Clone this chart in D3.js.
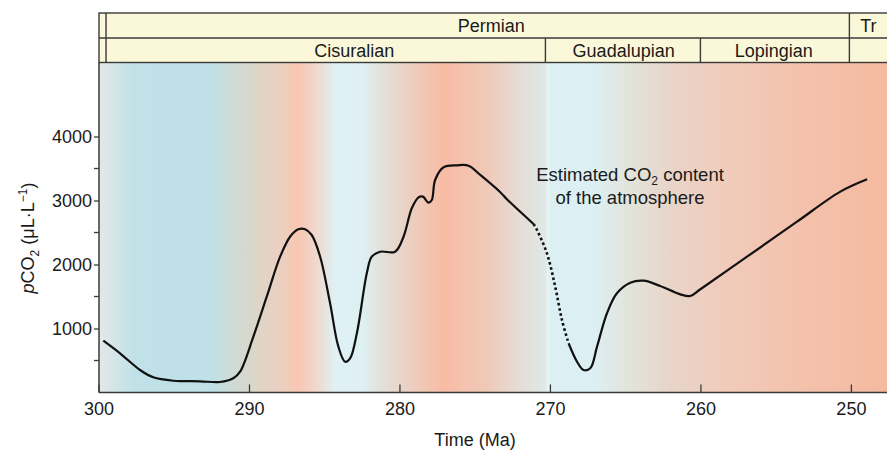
<!DOCTYPE html>
<html>
<head>
<meta charset="utf-8">
<script src="https://cdn.jsdelivr.net/npm/d3@7"></script>
<style>
    body { margin: 0; background: #fff; }
    text { font-family: "Liberation Sans", Arial, Helvetica, sans-serif; fill: #1a1a1a; }
</style>
</head>
<body>
<svg width="887" height="451"></svg>
<script>
// CO2 curve (age in Ma, pCO2 in uL/L)
const co2Ma = [299.68, 298.57, 297.24, 296.36, 295.03, 293.25, 291.92, 291.04, 290.59, 289.71,
    288.82, 287.93, 287.27, 286.72, 286.27, 285.83, 285.27, 284.61, 284.06, 283.61,
    283.28, 282.83, 282.17, 281.84, 281.28, 280.29, 279.73, 279.18, 278.73, 278.44,
    278.07, 277.85, 277.63, 277.07, 276.18, 275.41, 274.63, 273.3, 272.86, 271.09,
    270.86, 270.2, 269.65, 269.2, 268.76, 268.2, 267.77, 267.32, 266.87, 266.21,
    265.55, 264.66, 263.78, 262.67, 261.34, 260.67, 260.0, 256.9, 253.58, 250.7, 248.92];
const co2Val = [809, 612, 352, 237, 184, 175, 164, 222, 325, 872,
    1497, 2122, 2434, 2550, 2550, 2461, 2122, 1394, 716, 481,
    534, 925, 1862, 2122, 2200, 2200, 2434, 2878, 3050, 3060,
    2966, 3008, 3320, 3519, 3550, 3544, 3400, 3130, 3020, 2633,
    2539, 2175, 1653, 1133, 769, 481, 352, 378, 716, 1238,
    1550, 1716, 1747, 1664, 1534, 1508, 1613, 2122, 2669, 3138, 3331];
// the uncertain (dotted) stretch
const dashFrom = 271.09, dashTo = 268.76;

// time scale header
const periods = ["Permian", "Tr"];
const periodStart = [299.5, 250.1];
const periodLabelAt = [273.9, 248.84];
const epochs = ["Cisuralian", "Guadalupian", "Lopingian"];
const epochStart = [299.5, 270.3, 260.0];
const epochLabelAt = [283.0, 265.1, 255.13];

// climate shading behind the curve (cool = blue, warm = salmon)
const bgMa = [300, 299.9, 297.57, 292.45, 291.39, 289.59, 287.8, 286.74, 285.6, 284.27,
    282.48, 281.28, 279.95, 277.09, 274.17, 272.17, 270.31, 270.12, 270.04, 267.12,
    264.86, 262.0, 258.67, 254.22, 247.6];
const bgColors = ["#e4e9e9", "#e2e8e8", "#bfe1e7", "#bee0e6", "#ccdcd8", "#dcd6c8", "#eccfc0", "#f9c6b1", "#f0d7cc", "#dff1f4",
    "#def0f3", "#e2e2dc", "#e8d5ca", "#f8bca4", "#efc9b8", "#e6dcd4", "#dfe8e6", "#e9f4f4", "#dcf0f3", "#dcf0f3",
    "#e2e4dc", "#e8d5c8", "#f0ccbc", "#f3c3ae", "#f5b9a0"];

const yTicks = [1000, 2000, 3000, 4000];
const yMinorTicks = [500, 1500, 2500, 3500];
const xTicks = [300, 290, 280, 270, 260, 250];

const svg = d3.select("svg");
const W = 887;
const plotTop = 62.5, plotBottom = 392.5, plotLeft = 99;
const hdrTop = 13, hdrMid = 38;

const x = d3.scaleLinear().domain([300, 247.6]).range([98.5, W]);
const y = d3.scaleLinear().domain([0, 4000]).range([plotBottom, 136.5]);

// background gradient
const defs = svg.append("defs");
const grad = defs.append("linearGradient")
    .attr("id", "climate")
    .attr("gradientUnits", "userSpaceOnUse")
    .attr("x1", x(300)).attr("x2", x(247.6))
    .attr("y1", 0).attr("y2", 0);
grad.selectAll("stop")
    .data(bgMa)
    .join("stop")
    .attr("offset", d => (x(d) - x(300)) / (x(247.6) - x(300)))
    .attr("stop-color", (d, i) => bgColors[i]);

svg.append("rect")
    .attr("x", plotLeft).attr("y", plotTop)
    .attr("width", W - plotLeft).attr("height", plotBottom - plotTop)
    .attr("fill", "url(#climate)");

// header
const hdr = svg.append("g").classed("header", true);
hdr.append("rect")
    .attr("x", plotLeft).attr("y", hdrTop)
    .attr("width", W - plotLeft + 2).attr("height", plotTop - hdrTop)
    .attr("fill", "#faf8d9")
    .attr("stroke", "#3a3a3a")
    .attr("stroke-width", 1.4);
hdr.append("line")
    .attr("x1", plotLeft).attr("x2", W)
    .attr("y1", hdrMid).attr("y2", hdrMid)
    .attr("stroke", "#3a3a3a").attr("stroke-width", 1.4);
hdr.selectAll("line.pb")
    .data(periodStart)
    .join("line")
    .classed("pb", true)
    .attr("x1", d => x(d)).attr("x2", d => x(d))
    .attr("y1", hdrTop).attr("y2", plotTop)
    .attr("stroke", "#3a3a3a").attr("stroke-width", 1.4);
hdr.selectAll("line.eb")
    .data(epochStart.slice(1))
    .join("line")
    .classed("eb", true)
    .attr("x1", d => x(d)).attr("x2", d => x(d))
    .attr("y1", hdrMid).attr("y2", plotTop)
    .attr("stroke", "#3a3a3a").attr("stroke-width", 1.4);
hdr.selectAll("text.pl")
    .data(periods)
    .join("text")
    .classed("pl", true)
    .attr("x", (d, i) => x(periodLabelAt[i]))
    .attr("y", 31.5)
    .attr("text-anchor", "middle")
    .style("font-size", "18px")
    .text(d => d);
hdr.selectAll("text.el")
    .data(epochs)
    .join("text")
    .classed("el", true)
    .attr("x", (d, i) => x(epochLabelAt[i]))
    .attr("y", 56.5)
    .attr("text-anchor", "middle")
    .style("font-size", "18px")
    .text(d => d);

// curve
const pts = co2Ma.map((m, i) => [m, co2Val[i]]);
const line = d3.line()
    .x(d => x(d[0]))
    .y(d => y(d[1]))
    .curve(d3.curveCatmullRom.alpha(0.5));
const curves = svg.append("g").attr("fill", "none").attr("stroke", "#111");
curves.append("path")
    .attr("d", line(pts.filter(d => d[0] >= dashFrom)))
    .attr("stroke-width", 2.2);
curves.append("path")
    .attr("d", line(pts.filter(d => d[0] <= dashFrom && d[0] >= dashTo)))
    .attr("stroke-width", 2.6)
    .attr("stroke-dasharray", "2.6 2.6");
curves.append("path")
    .attr("d", line(pts.filter(d => d[0] <= dashTo)))
    .attr("stroke-width", 2.2);

// axes
const axisColor = "#3a3a3a";
const yAxis = svg.append("g")
    .attr("transform", "translate(" + plotLeft + ",0)");
yAxis.call(d3.axisLeft(y).tickValues(yTicks).tickSize(5).tickPadding(2).tickFormat(d3.format("d")))
    .call(g => g.select(".domain").remove());
yAxis.selectAll(".tick line").attr("stroke", axisColor).attr("stroke-width", 1.3);
yAxis.selectAll(".tick text").style("font-size", "18px").attr("fill", "#1a1a1a");
yAxis.selectAll("line.minor")
    .data(yMinorTicks)
    .join("line")
    .classed("minor", true)
    .attr("x1", -5).attr("x2", 0)
    .attr("y1", d => y(d)).attr("y2", d => y(d))
    .attr("stroke", axisColor).attr("stroke-width", 1.3);

const xAxis = svg.append("g")
    .attr("transform", "translate(0," + plotBottom + ")");
xAxis.call(d3.axisBottom(x).tickValues(xTicks).tickSize(-8).tickPadding(10).tickFormat(d3.format("d")))
    .call(g => g.select(".domain").remove());
xAxis.selectAll(".tick line").attr("stroke", axisColor).attr("stroke-width", 1.3);
xAxis.selectAll(".tick text").style("font-size", "18px").attr("fill", "#1a1a1a");

svg.append("line")
    .attr("x1", plotLeft).attr("x2", plotLeft)
    .attr("y1", plotTop).attr("y2", plotBottom)
    .attr("stroke", axisColor).attr("stroke-width", 1.5);
svg.append("line")
    .attr("x1", plotLeft).attr("x2", W)
    .attr("y1", plotBottom).attr("y2", plotBottom)
    .attr("stroke", axisColor).attr("stroke-width", 1.5);

// axis titles
svg.append("text")
    .attr("x", 475)
    .attr("y", 446)
    .attr("text-anchor", "middle")
    .style("font-size", "18px")
    .text("Time (Ma)");

const yTitle = svg.append("text")
    .attr("transform", "translate(34,238) rotate(-90)")
    .attr("text-anchor", "middle")
    .style("font-size", "18px");
yTitle.append("tspan").style("font-style", "italic").text("p");
yTitle.append("tspan").text("CO");
yTitle.append("tspan").attr("dy", 5).style("font-size", "12px").text("2");
yTitle.append("tspan").attr("dy", -5).text(" (\u03bcL\u00b7L");
yTitle.append("tspan").attr("dy", -7).style("font-size", "12px").text("\u22121");
yTitle.append("tspan").attr("dy", 7).text(")");

// annotation
const note = svg.append("text")
    .attr("text-anchor", "middle")
    .style("font-size", "18.5px");
note.append("tspan").attr("x", 630).attr("y", 181).text("Estimated CO");
note.append("tspan").attr("dy", 4).style("font-size", "12px").text("2");
note.append("tspan").attr("dy", -4).text(" content");
svg.append("text")
    .attr("x", 630).attr("y", 204)
    .attr("text-anchor", "middle")
    .style("font-size", "18.5px")
    .text("of the atmosphere");
</script>
</body>
</html>
